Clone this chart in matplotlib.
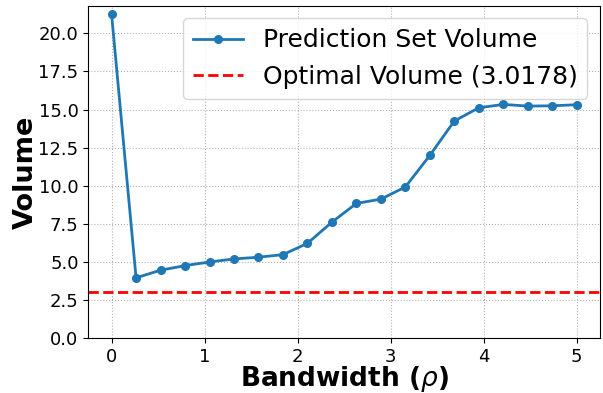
import numpy as np
import matplotlib
matplotlib.use("Agg")
import matplotlib.pyplot as plt

# bandwidth values and prediction set volumes
bandwidth = [0.0, 0.263, 0.526, 0.789, 1.053, 1.316, 1.579, 1.842, 2.105, 2.368,
             2.632, 2.895, 3.158, 3.421, 3.684, 3.947, 4.211, 4.474, 4.737, 5.0]
volume = [21.24, 3.97, 4.47, 4.77, 5.01, 5.21, 5.32, 5.49, 6.23, 7.62,
          8.85, 9.13, 9.93, 12.0, 14.25, 15.12, 15.34, 15.23, 15.25, 15.32]
optimal_volume = 3.0178

fig = plt.figure(figsize=(6.03, 3.93), dpi=100)
ax = fig.add_axes([0.1465, 0.139, 0.8485, 0.846])

ax.plot(bandwidth, volume, marker="o", markersize=5.5, linewidth=2,
        color="#1f77b4", label="Prediction Set Volume")
ax.axhline(optimal_volume, color="red", linestyle="--", linewidth=2,
           label=f"Optimal Volume ({optimal_volume})")

ax.set_ylim(0, 21.8)
ax.set_xlabel(r"Bandwidth ($\rho$)", fontsize=19, fontweight="bold", labelpad=-1.5)
ax.set_ylabel("Volume", fontsize=19.5, fontweight="bold", labelpad=0)
ax.tick_params(labelsize=13)
ax.grid(True, linestyle=":", color="gray", alpha=0.6)
ax.legend(fontsize=18, loc="upper right")

fig.savefig("out.png", dpi=100)
